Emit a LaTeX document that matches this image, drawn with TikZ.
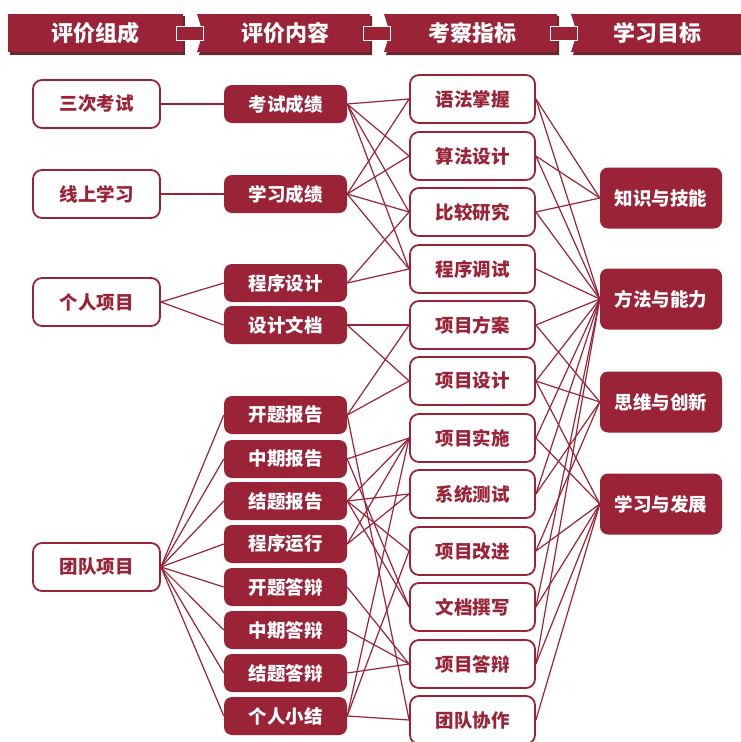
\documentclass[tikz,border=0pt]{standalone}
\usepackage{fontspec}
\newfontfamily\cjk{Noto Sans CJK SC}
\definecolor{dr}{RGB}{155,35,55}
\definecolor{drs}{RGB}{105,40,48}
\begin{document}
\begin{tikzpicture}[x=1pt,y=-1pt,
  obox/.style={draw=dr, line width=1.8pt, rounded corners=9pt, fill=white, text=dr,
    minimum width=127pt, minimum height=48pt, inner sep=0pt, font=\cjk\bfseries\fontsize{18.5}{21}\selectfont},
  obox3/.style={obox, minimum width=125pt},
  fbox/.style={fill=dr, rounded corners=8pt, text=white, minimum width=123pt, minimum height=38pt,
    inner sep=0pt, font=\cjk\bfseries\fontsize{18.5}{21}\selectfont},
  fbox4/.style={fbox, minimum width=122pt, minimum height=61pt},
  htext/.style={text=white, font=\cjk\bfseries\fontsize{22}{25}\selectfont},
  link/.style={draw=dr, line width=1.2pt},
  banner/.style={fill=dr},
  bshadow/.style={fill=drs},
  bconn/.style={fill=dr, draw=white, line width=0.6pt}
]
\useasboundingbox (0,0) rectangle (740,742);

% header banners
\fill[bshadow] (10,16) rectangle (185,55);
\fill[banner] (8,14) rectangle (183,52);
\foreach \a/\b in {197/370, 384/557, 571/741}{
  \fill[bshadow] (\a+2,16) -- (\b+2,16) -- (\b+2,55) -- (\a+2,55) -- (\a+8,35) -- cycle;
  \fill[banner] (\a,14) -- (\b,14) -- (\b,52) -- (\a,52) -- (\a+6,33) -- cycle;
}
\foreach \a/\b in {176/203, 363/390, 550/577}{
  \draw[bconn] (\a,26) rectangle (\b,40);
}
\node[htext] (h1) at (95.5,33) {评价组成};
\node[htext] (h2) at (285,33) {评价内容};
\node[htext] (h3) at (472,33) {考察指标};
\node[htext] (h4) at (657,33) {学习目标};

% column 1
\node[obox] (skks) at (96.5,104) {三次考试};
\node[obox] (xsxx) at (96.5,194) {线上学习};
\node[obox] (grxm) at (96.5,302) {个人项目};
\node[obox] (tdxm) at (96.5,567) {团队项目};

% column 2
\node[fbox] (kscj) at (285.5,104) {考试成绩};
\node[fbox] (xxcj) at (285.5,194) {学习成绩};
\node[fbox] (cxsj) at (285.5,283) {程序设计};
\node[fbox] (sjwd) at (285.5,325) {设计文档};
\node[fbox] (ktbg) at (285.5,415) {开题报告};
\node[fbox] (zqbg) at (285.5,459) {中期报告};
\node[fbox] (jtbg) at (285.5,501) {结题报告};
\node[fbox] (cxyx) at (285.5,544) {程序运行};
\node[fbox] (ktdb) at (285.5,587) {开题答辩};
\node[fbox] (zqdb) at (285.5,630) {中期答辩};
\node[fbox] (jtdb) at (285.5,673) {结题答辩};
\node[fbox] (grxj) at (285.5,716) {个人小结};

% column 3
\node[obox3] (yfzw) at (472.5,99) {语法掌握};
\node[obox3] (sfsj) at (472.5,156) {算法设计};
\node[obox3] (bjyj) at (472.5,212) {比较研究};
\node[obox3] (cxts) at (472.5,269) {程序调试};
\node[obox3] (xmfa) at (472.5,325) {项目方案};
\node[obox3] (xmsj) at (472.5,381) {项目设计};
\node[obox3] (xmss) at (472.5,438) {项目实施};
\node[obox3] (xtcs) at (472.5,494) {系统测试};
\node[obox3] (xmgj) at (472.5,551) {项目改进};
\node[obox3] (wdzx) at (472.5,607) {文档撰写};
\node[obox3] (xmdb) at (472.5,664) {项目答辩};
\node[obox3] (tdxz) at (472.5,720) {团队协作};

% column 4
\node[fbox4] (zsjn) at (661,198) {知识与技能};
\node[fbox4] (ffnl) at (661,299) {方法与能力};
\node[fbox4] (swcx) at (661,402) {思维与创新};
\node[fbox4] (xxfz) at (661,504) {学习与发展};

% links column 1 -> 2
\foreach \s/\t in {skks/kscj, xsxx/xxcj, grxm/cxsj, grxm/sjwd,
  tdxm/ktbg, tdxm/zqbg, tdxm/jtbg, tdxm/cxyx, tdxm/ktdb, tdxm/zqdb, tdxm/jtdb, tdxm/grxj}
  \draw[link] (\s.east) -- (\t.west);

% links column 2 -> 3
\foreach \s/\t in {kscj/yfzw, kscj/sfsj, kscj/bjyj, kscj/cxts,
  xxcj/yfzw, xxcj/sfsj, xxcj/bjyj, xxcj/cxts,
  cxsj/bjyj, cxsj/cxts,
  sjwd/xmfa, sjwd/xmsj,
  ktbg/xmfa, ktbg/xmsj, ktbg/tdxz,
  zqbg/xmss, zqbg/wdzx,
  jtbg/xmss, jtbg/xtcs, jtbg/xmgj, jtbg/wdzx,
  cxyx/xmss, cxyx/xtcs,
  ktdb/xmdb, zqdb/xmdb, jtdb/xmdb,
  grxj/tdxz, grxj/xmgj, grxj/xmss}
  \draw[link] (\s.east) -- (\t.west);

% links column 3 -> 4
\foreach \s/\t in {yfzw/zsjn, yfzw/ffnl, sfsj/zsjn, sfsj/ffnl, bjyj/zsjn, bjyj/ffnl,
  cxts/ffnl,
  xmfa/ffnl, xmfa/swcx,
  xmsj/ffnl, xmsj/swcx, xmsj/xxfz,
  xmss/ffnl, xmss/xxfz,
  xtcs/ffnl, xtcs/swcx,
  xmgj/swcx, xmgj/xxfz,
  wdzx/ffnl, wdzx/xxfz,
  xmdb/ffnl, xmdb/xxfz,
  tdxz/xxfz}
  \draw[link] (\s.east) -- (\t.west);
\end{tikzpicture}
\end{document}
